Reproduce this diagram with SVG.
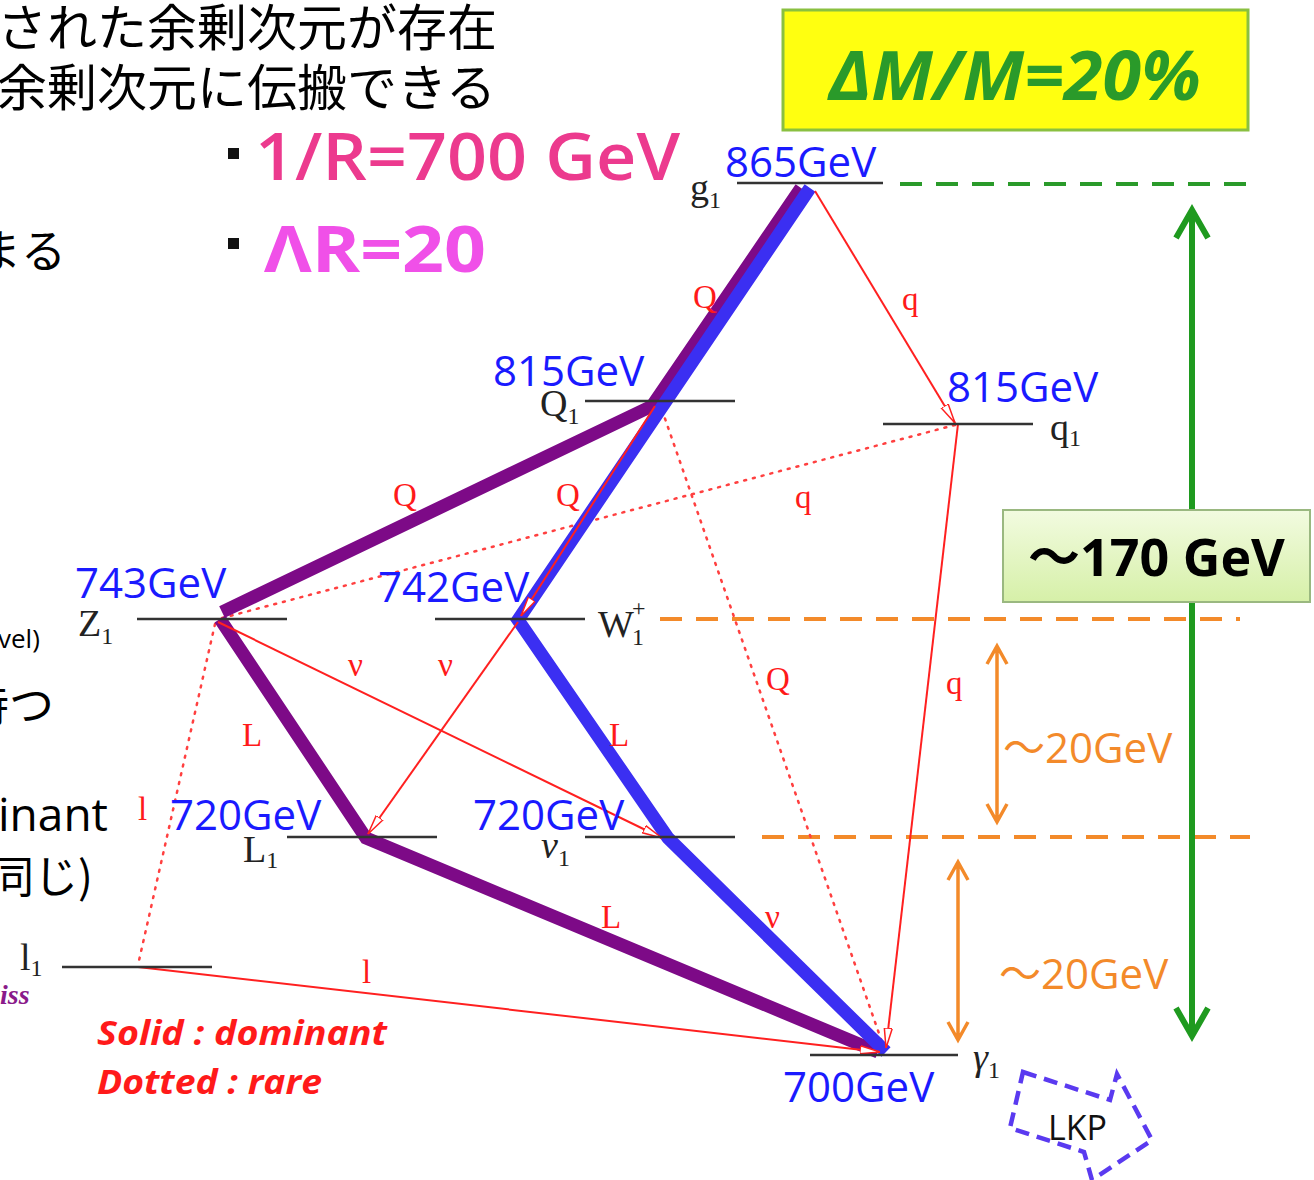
<svg xmlns="http://www.w3.org/2000/svg" width="1314" height="1180" viewBox="0 0 1314 1180">
<defs>
<style>
.jp{font-family:"Noto Sans CJK JP","Noto Sans",sans-serif;fill:#000}
.en{font-family:"Open Sans","Liberation Sans",sans-serif;fill:#000}
.gev{font-family:"Open Sans","Liberation Sans",sans-serif;fill:#1a1aff;font-size:42px}
.pt{font-family:"Liberation Serif","DejaVu Serif",serif;fill:#222;font-size:38px}
.sub{font-size:24px}
.rl{font-family:"Liberation Serif","DejaVu Serif",serif;fill:#ff1a1a;font-size:33px}
.lvl{stroke:#333;stroke-width:2.5;fill:none}
.thick{stroke-width:13;fill:none;stroke-linejoin:miter}
.pur{stroke:#7d0a87}
.blu{stroke:#3b2ff2}
.red{stroke:#ff2020;stroke-width:2;fill:none}
.dot{stroke:#ff4040;stroke-width:2.5;fill:none;stroke-dasharray:2 7;stroke-linecap:round}
.od{stroke:#f38a2a;stroke-width:4;fill:none;stroke-dasharray:22 14}
.gd{stroke:#2a9a2a;stroke-width:4;fill:none;stroke-dasharray:22 14}
.gap{font-family:"Open Sans","Liberation Sans",sans-serif;font-size:42px;fill:#f38a2a}
.wave{font-family:"Noto Sans CJK JP",sans-serif}
.leg{font-family:"Open Sans","Liberation Sans",sans-serif;font-size:34px;font-weight:bold;font-style:italic;fill:#ff1a1a}
</style>
<marker id="ah" viewBox="0 0 20 10" refX="20" refY="5" markerWidth="20" markerHeight="10" markerUnits="userSpaceOnUse" orient="auto">
<path d="M0,1 L20,5 L0,9 Z" fill="#fff" stroke="#ff2020" stroke-width="1.5"/>
</marker>
<linearGradient id="lg" x1="0" y1="0" x2="0" y2="1">
<stop offset="0" stop-color="#f2fbe0"/><stop offset="1" stop-color="#d6f0a8"/>
</linearGradient>
<linearGradient id="og" x1="0" y1="0" x2="1" y2="0">
<stop offset="0" stop-color="#f38a2a"/><stop offset="1" stop-color="#4a9a2a"/>
</linearGradient>
</defs>
<rect width="1314" height="1180" fill="#fff"/>

<g id="slide-text">
<text class="jp" x="-3" y="46" font-size="50">された余剰次元が存在</text>
<text class="jp" x="-3" y="106" font-size="50">余剰次元に伝搬できる</text>
<text class="jp" x="-24" y="268" font-size="45">まる</text>
<text class="en" x="-2" y="648" font-size="26">vel)</text>
<text class="jp" x="-36" y="722" font-size="45">持つ</text>
<text class="en" x="-2" y="831" font-size="46">inant</text>
<text class="jp" x="-10" y="893" font-size="44">同じ)</text>
<text x="0" y="1004" font-family="Liberation Serif,serif" font-style="italic" font-weight="bold" font-size="28" fill="#8a1a8a">iss</text>
<rect x="228" y="148" width="11" height="11" fill="#111"/>
<text x="255" y="180" font-family="Open Sans,Liberation Sans,sans-serif" font-size="66" font-weight="600" fill="#ec3a8e" textLength="425" lengthAdjust="spacingAndGlyphs">1/R=700 GeV</text>
<rect x="228" y="238" width="11" height="11" fill="#111"/>
<text x="264" y="272" font-family="Open Sans,Liberation Sans,sans-serif" font-size="64" fill="#f050e8" font-weight="bold" textLength="222" lengthAdjust="spacingAndGlyphs">ΛR=20</text>
<text class="leg" x="97" y="1045" textLength="290" lengthAdjust="spacingAndGlyphs">Solid : dominant</text>
<text class="leg" x="97" y="1094" textLength="225" lengthAdjust="spacingAndGlyphs">Dotted : rare</text>
</g>

<g id="box-dm">
<rect x="783" y="10" width="465" height="120" fill="#ffff10" stroke="#8ac040" stroke-width="3"/>
<text x="1015" y="100" text-anchor="middle" font-family="Open Sans,Liberation Sans,sans-serif" font-size="68" font-weight="bold" font-style="italic" fill="#2a9a2a" textLength="372" lengthAdjust="spacingAndGlyphs">ΔM/M=20%</text>
</g>

<g id="connectors">
<path class="gd" d="M900,184 H1255"/>
<path class="od" d="M660,619 H1240"/>
<path class="od" d="M762,837 H1250"/>
<path d="M1035,1058 H1245" stroke="url(#og)" stroke-width="4" stroke-dasharray="22 14" fill="none"/>
<path d="M1192,212 V1034" stroke="#1f9a1f" stroke-width="6" fill="none"/>
<path d="M1176,238 L1192,210 L1208,238" stroke="#1f9a1f" stroke-width="6" fill="none"/>
<path d="M1176,1008 L1192,1036 L1208,1008" stroke="#1f9a1f" stroke-width="6" fill="none"/>
<path d="M997,648 V820 M987,664 L997,646 L1007,664 M987,804 L997,822 L1007,804" stroke="#f38a2a" stroke-width="3.5" fill="none"/>
<path d="M958,864 V1038 M948,880 L958,862 L968,880 M948,1022 L958,1040 L968,1022" stroke="#f38a2a" stroke-width="3.5" fill="none"/>

<path class="dot" d="M662,410 L883,1045"/>
<path class="dot" d="M955,425 L222,618"/>
<path class="dot" d="M215,624 L138,965"/>

<polyline class="thick pur" points="801,188 652,406 222,612"/>
<polyline class="thick pur" points="220,619 366,838 878,1052"/>
<polyline class="thick blu" points="810,188 518,620 668,838 886,1052"/>

<path class="red" d="M815,191 L955,423" marker-end="url(#ah)"/>
<path class="red" d="M958,424 L886,1048" marker-end="url(#ah)"/>
<path class="red" d="M655,406 L521,616" marker-end="url(#ah)"/>
<path class="red" d="M518,622 L368,834" marker-end="url(#ah)"/>
<path class="red" d="M218,622 L662,838" marker-end="url(#ah)"/>
<path class="red" d="M138,967 L880,1052" marker-end="url(#ah)"/>
</g>

<g id="edge-labels">
<text class="rl" x="693" y="308">Q</text>
<text class="rl" x="902" y="310">q</text>
<text class="rl" x="393" y="506">Q</text>
<text class="rl" x="556" y="506">Q</text>
<text class="rl" x="795" y="508">q</text>
<text class="rl" x="348" y="676">ν</text>
<text class="rl" x="438" y="676">ν</text>
<text class="rl" x="766" y="690">Q</text>
<text class="rl" x="946" y="694">q</text>
<text class="rl" x="242" y="746">L</text>
<text class="rl" x="609" y="746">L</text>
<text class="rl" x="138" y="820">l</text>
<text class="rl" x="601" y="928">L</text>
<text class="rl" x="765" y="928">ν</text>
<text class="rl" x="362" y="983">l</text>
</g>

<g id="node-g1">
<path class="lvl" d="M737,183 H883"/>
<text class="gev" x="725" y="177">865GeV</text>
<text class="pt" x="690" y="200">g<tspan class="sub" dy="8">1</tspan></text>
</g>
<g id="node-Q1">
<path class="lvl" d="M585,401 H735"/>
<text class="gev" x="493" y="386">815GeV</text>
<text class="pt" x="540" y="416">Q<tspan class="sub" dy="8">1</tspan></text>
</g>
<g id="node-q1">
<path class="lvl" d="M883,424 H1033"/>
<text class="gev" x="947" y="402">815GeV</text>
<text class="pt" x="1050" y="440">q<tspan class="sub" dy="6">1</tspan></text>
</g>
<g id="node-Z1">
<path class="lvl" d="M137,619 H287"/>
<text class="gev" x="75" y="598">743GeV</text>
<text class="pt" x="78" y="636">Z<tspan class="sub" dy="8">1</tspan></text>
</g>
<g id="node-W1">
<path class="lvl" d="M435,619 H585"/>
<text class="gev" x="378" y="602">742GeV</text>
<text class="pt" x="598" y="637">W</text>
<text class="pt sub" x="632" y="616">+</text>
<text class="pt sub" x="632" y="645">1</text>
</g>
<g id="node-L1">
<path class="lvl" d="M287,837 H437"/>
<text class="gev" x="170" y="830">720GeV</text>
<text class="pt" x="243" y="862">L<tspan class="sub" dy="6">1</tspan></text>
</g>
<g id="node-nu1">
<path class="lvl" d="M585,837 H735"/>
<text class="gev" x="473" y="830">720GeV</text>
<text class="pt" x="541" y="858" font-style="italic">ν<tspan class="sub" dy="8" font-style="normal">1</tspan></text>
</g>
<g id="node-l1">
<path class="lvl" d="M62,967 H212"/>
<text class="pt" x="20" y="970">l<tspan class="sub" dy="6">1</tspan></text>
</g>
<g id="node-gamma1">
<path class="lvl" d="M810,1055 H958"/>
<text class="gev" x="783" y="1102">700GeV</text>
<text class="pt" x="973" y="1070" font-style="italic">γ<tspan class="sub" dy="8" font-style="normal">1</tspan></text>
</g>

<g id="box-170">
<rect x="1003" y="510" width="307" height="92" fill="url(#lg)" stroke="#9ab880" stroke-width="2"/>
<text x="1028" y="576" font-family="Open Sans,Liberation Sans,sans-serif" font-size="52" font-weight="bold" fill="#000"><tspan class="wave">～</tspan>170 GeV</text>
</g>

<g id="gap-labels">
<text class="gap" x="1003" y="763"><tspan class="wave">～</tspan>20GeV</text>
<text class="gap" x="999" y="989"><tspan class="wave">～</tspan>20GeV</text>
</g>

<g id="node-LKP">
<path d="M1023,1072 L1110,1100 L1117,1074 L1152,1140 L1092,1180 L1084,1152 L1010,1128 Z" fill="none" stroke="#5a3af0" stroke-width="4.5" stroke-dasharray="14 8"/>
<text x="1048" y="1140" font-family="Open Sans,Liberation Sans,sans-serif" font-size="34" fill="#111">LKP</text>
</g>
</svg>
